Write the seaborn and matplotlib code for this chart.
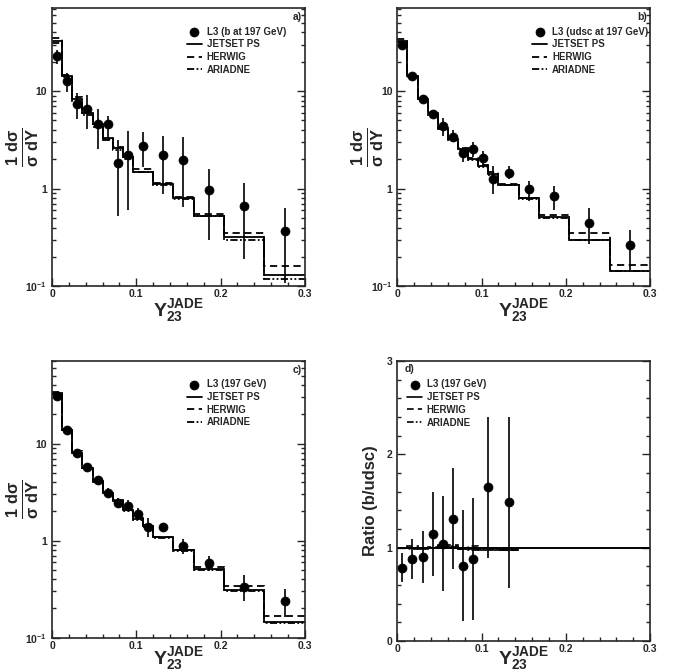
import numpy as np
import matplotlib
matplotlib.use("Agg")
import matplotlib.pyplot as plt
from matplotlib.ticker import FixedLocator, MultipleLocator, LogLocator, NullFormatter
import seaborn as sns

# bin edges
edges_a = [0, 0.012, 0.024, 0.036, 0.048, 0.060, 0.072, 0.084, 0.096, 0.12,
           0.144, 0.168, 0.204, 0.252, 0.30]
edges_bc = [0, 0.012, 0.024, 0.036, 0.048, 0.060, 0.072, 0.084, 0.096, 0.108,
            0.12, 0.144, 0.168, 0.204, 0.252, 0.30]
edges_d = [0, 0.012, 0.024, 0.036, 0.048, 0.060, 0.072, 0.084, 0.096, 0.12, 0.144]

# panel a: b quarks
data_a = [23, 12.8, 7.45, 6.6, 4.6, 4.55, 1.84, 2.23, 2.74, 2.2, 1.98, 0.96, 0.667, 0.371]
hi_a = [26.5, 15.2, 9.6, 9.1, 6.6, 5.6, 3.16, 3.9, 3.85, 3.5, 3.37, 1.61, 1.15, 0.64]
lo_a = [19, 9.8, 5.2, 4.1, 2.55, 3.1, 0.52, 0.61, 1.65, 0.89, 0.65, 0.30, 0.19, 0.107]
jetset_a = [33, 14.3, 8.3, 5.9, 4.6, 3.3, 2.6, 2.1, 1.5, 1.13, 0.80, 0.53, 0.32, 0.13]
herwig_a = [35, 14.8, 8.7, 6.1, 4.5, 3.15, 2.7, 2.1, 1.6, 1.15, 0.82, 0.55, 0.355, 0.16]
ariadne_a = [31, 14.0, 8.0, 5.7, 4.3, 3.2, 2.5, 2.0, 1.48, 1.10, 0.78, 0.52, 0.30, 0.12]

# panel b: udsc quarks
data_b = [29.4, 14.4, 8.3, 5.8, 4.4, 3.4, 2.32, 2.55, 2.06, 1.26, 1.46, 0.99, 0.84, 0.45, 0.265]
hi_b = [31.5, 15.2, 8.8, 6.3, 5.3, 3.95, 2.7, 3.0, 2.45, 1.72, 1.69, 1.2, 1.07, 0.63, 0.38]
lo_b = [27.5, 13.6, 7.8, 5.3, 3.5, 3.0, 1.86, 2.1, 1.72, 0.89, 1.25, 0.75, 0.6, 0.27, 0.147]
jetset_b = [33, 14.3, 8.3, 5.9, 4.2, 3.25, 2.55, 2.0, 1.7, 1.4, 1.1, 0.8, 0.51, 0.30, 0.145]
herwig_b = [34, 14.6, 8.5, 6.1, 4.3, 3.3, 2.6, 2.05, 1.75, 1.5, 1.12, 0.8, 0.54, 0.35, 0.167]
ariadne_b = [32, 14.1, 8.1, 5.7, 4.1, 3.15, 2.5, 1.95, 1.65, 1.38, 1.08, 0.78, 0.50, 0.295, 0.142]

# panel c: all flavours
data_c = [31, 13.9, 8.05, 5.73, 4.24, 3.1, 2.44, 2.29, 1.88, 1.38, 1.38, 0.875, 0.589, 0.334, 0.238]
hi_c = [32.5, 14.6, 8.5, 6.1, 4.6, 3.5, 2.75, 2.6, 2.15, 1.7, 1.5, 1.05, 0.7, 0.44, 0.32]
lo_c = [29.5, 13.2, 7.6, 5.4, 3.9, 2.8, 2.2, 2.0, 1.65, 1.08, 1.26, 0.72, 0.49, 0.24, 0.164]
jetset_c = [33, 13.9, 8.05, 5.6, 4.08, 3.1, 2.56, 2.05, 1.66, 1.4, 1.09, 0.795, 0.515, 0.308, 0.146]
herwig_c = [34, 14.2, 8.3, 5.8, 4.2, 3.2, 2.65, 2.1, 1.72, 1.45, 1.1, 0.8, 0.53, 0.34, 0.167]
ariadne_c = [32, 13.7, 7.9, 5.5, 4.0, 3.05, 2.5, 2.0, 1.62, 1.37, 1.07, 0.78, 0.50, 0.30, 0.142]

# panel d: ratio b/udsc
data_d = [0.785, 0.88, 0.90, 1.145, 1.04, 1.31, 0.80, 0.875, 1.645, 1.49]
hi_d = [0.94, 1.09, 1.18, 1.6, 1.55, 1.85, 1.4, 1.53, 2.4, 2.4]
lo_d = [0.63, 0.67, 0.62, 0.70, 0.54, 0.77, 0.22, 0.23, 0.89, 0.57]
jetset_d = [1.0, 1.0, 0.99, 1.0, 1.02, 1.01, 0.99, 0.99, 0.98, 0.98]
herwig_d = [1.0, 1.02, 1.0, 1.01, 1.03, 1.03, 1.0, 1.02, 1.0, 0.98]
ariadne_d = [1.0, 0.99, 1.0, 1.0, 1.02, 1.02, 0.99, 0.98, 0.99, 0.97]

sns.set_style("ticks")
plt.rcParams["font.family"] = ["Liberation Sans", "DejaVu Sans"]
plt.rcParams["font.weight"] = "bold"
plt.rcParams["mathtext.fontset"] = "custom"
plt.rcParams["mathtext.rm"] = "Liberation Sans:bold"
plt.rcParams["mathtext.bf"] = "Liberation Sans:bold"
plt.rcParams["mathtext.it"] = "Liberation Sans:bold"
plt.rcParams["axes.linewidth"] = 1.2

ARIADNE_LS = (0, (4, 1.3, 1, 1.3, 1, 1.3))
MODEL_STYLES = [("JETSET PS", "-"), ("HERWIG", (0, (4, 2.5))), ("ARIADNE", ARIADNE_LS)]
LEGEND_KW = dict(frameon=False, handlelength=1.5, handletextpad=0.5, labelspacing=0.28,
                 borderpad=0.4, prop={"weight": "bold", "size": 7})

fig = plt.figure(figsize=(6.85, 6.72), dpi=100)
pos = {
    "a": [0.076, 0.574, 0.369, 0.414],
    "b": [0.580, 0.574, 0.369, 0.414],
    "c": [0.076, 0.051, 0.369, 0.412],
    "d": [0.580, 0.046, 0.369, 0.417],
}


def style_axes(ax, log=True, xlab_y=-0.04):
    ax.set_xlim(0, 0.3)
    ax.xaxis.set_major_locator(FixedLocator([0, 0.1, 0.2, 0.3]))
    ax.xaxis.set_minor_locator(MultipleLocator(0.02))
    ax.set_xticklabels(["0", "0.1", "0.2", "0.3"])
    ax.tick_params(axis="both", which="both", direction="in", top=False, right=True,
                   labelsize=7.5, width=1.0)
    ax.tick_params(axis="both", which="major", length=6)
    ax.tick_params(axis="both", which="minor", length=3)
    ax.tick_params(axis="x", pad=2)
    for lab in ax.get_xticklabels() + ax.get_yticklabels():
        lab.set_fontweight("bold")
    ax.set_xlabel(r"$\mathbf{Y^{JADE}_{23}}$", fontsize=14)
    ax.xaxis.set_label_coords(0.5, xlab_y)
    if log:
        ax.set_yscale("log")
        ax.set_ylim(0.1, 71)
        ax.yaxis.set_major_locator(FixedLocator([0.1, 1, 10]))
        ax.yaxis.set_minor_locator(LogLocator(base=10, subs=np.arange(2, 10)))
        ax.yaxis.set_minor_formatter(NullFormatter())
        ax.set_yticklabels([r"$\mathbf{10^{-1}}$", "1", "10"])
        ax.set_ylabel(r"$\mathbf{\frac{1\ d\sigma}{\sigma\ dY}}$", fontsize=17)
        ax.yaxis.set_label_coords(-0.045, 0.5)


def draw_spectrum(ax, edges, data, hi, lo, models, label, tag, xlab_y=-0.04):
    centers = 0.5 * (np.array(edges[:-1]) + np.array(edges[1:]))
    for (name, ls), vals in zip(MODEL_STYLES, models):
        ax.stairs(vals, edges, baseline=None, color="black", linestyle=ls,
                  linewidth=1.3, label=name)
    data = np.array(data)
    yerr = [data - np.array(lo), np.array(hi) - data]
    ax.errorbar(centers, data, yerr=yerr, fmt="none", ecolor="black", elinewidth=1.2)
    sns.scatterplot(x=centers, y=data, ax=ax, color="black", s=42, edgecolor="black",
                    zorder=5, label=label)
    style_axes(ax, xlab_y=xlab_y)
    handles, labels = ax.get_legend_handles_labels()
    order = [3, 0, 1, 2]
    ax.legend([handles[i] for i in order], [labels[i] for i in order],
              loc="upper left", bbox_to_anchor=(0.5, 0.965), **LEGEND_KW)
    ax.text(0.988, 0.985, tag, transform=ax.transAxes, ha="right", va="top",
            fontsize=7.5, fontweight="bold")


ax_a = fig.add_axes(pos["a"])
draw_spectrum(ax_a, edges_a, data_a, hi_a, lo_a, [jetset_a, herwig_a, ariadne_a],
              "L3 (b at 197 GeV)", "a)")
ax_b = fig.add_axes(pos["b"])
draw_spectrum(ax_b, edges_bc, data_b, hi_b, lo_b, [jetset_b, herwig_b, ariadne_b],
              "L3 (udsc at 197 GeV)", "b)")
ax_c = fig.add_axes(pos["c"])
draw_spectrum(ax_c, edges_bc, data_c, hi_c, lo_c, [jetset_c, herwig_c, ariadne_c],
              "L3 (197 GeV)", "c)", xlab_y=-0.025)

# ratio panel
ax_d = fig.add_axes(pos["d"])
centers_d = 0.5 * (np.array(edges_d[:-1]) + np.array(edges_d[1:]))
for (name, ls), vals in zip(MODEL_STYLES, [jetset_d, herwig_d, ariadne_d]):
    ax_d.stairs(vals, edges_d, baseline=None, color="black", linestyle=ls,
                linewidth=1.2, label=name)
ax_d.axhline(1.0, color="black", linewidth=1.4, zorder=1)
dd = np.array(data_d)
ax_d.errorbar(centers_d, dd, yerr=[dd - np.array(lo_d), np.array(hi_d) - dd], fmt="none",
              ecolor="black", elinewidth=1.2)
sns.scatterplot(x=centers_d, y=dd, ax=ax_d, color="black", s=42, edgecolor="black",
                zorder=5, label="L3 (197 GeV)")
style_axes(ax_d, log=False, xlab_y=-0.015)
ax_d.set_ylim(0, 3)
ax_d.yaxis.set_major_locator(FixedLocator([0, 1, 2, 3]))
ax_d.yaxis.set_minor_locator(MultipleLocator(0.2))
ax_d.set_yticklabels(["0", "1", "2", "3"])
for lab in ax_d.get_yticklabels():
    lab.set_fontweight("bold")
ax_d.set_ylabel("Ratio (b/udsc)", fontsize=12, fontweight="bold")
ax_d.yaxis.set_label_coords(-0.075, 0.5)
h, l = ax_d.get_legend_handles_labels()
order = [3, 0, 1, 2]
ax_d.legend([h[i] for i in order], [l[i] for i in order], loc="upper left",
            bbox_to_anchor=(0.005, 0.965), **LEGEND_KW)
ax_d.text(0.03, 0.99, "d)", transform=ax_d.transAxes, ha="left", va="top",
          fontsize=7.5, fontweight="bold")

fig.savefig("out.png", dpi=100)
